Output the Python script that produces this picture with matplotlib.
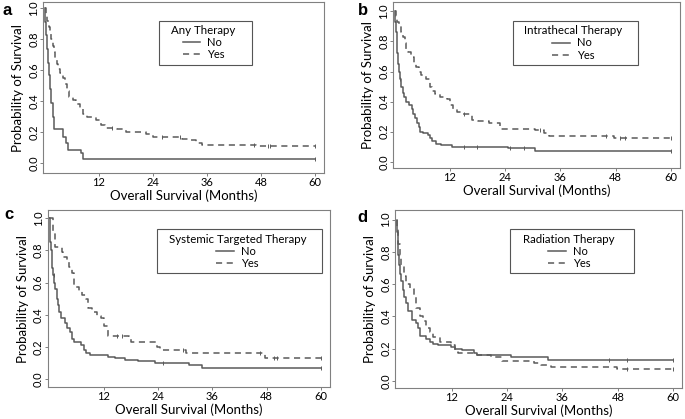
import matplotlib
matplotlib.use("Agg")
import matplotlib.pyplot as plt
from matplotlib.patches import Rectangle
import numpy as np

plt.rcParams['font.family'] = ['Lato', 'DejaVu Sans']

# Kaplan-Meier curves: event times (months) and survival after each drop
a_no_t = [0.15, 0.35, 0.6, 0.85, 1.05, 1.3, 1.55, 1.8, 2.0, 4.2, 4.7, 5.2, 8.1, 8.5]
a_no_s = [0.91, 0.83, 0.74, 0.65, 0.57, 0.48, 0.39, 0.30, 0.22, 0.17, 0.13, 0.087, 0.065, 0.03]
a_no_c = [60]
a_yes_t = [0.3, 0.6, 0.9, 1.2, 1.5, 1.8, 2.1, 2.4, 2.7, 3.0, 3.5, 4.0, 4.5, 5.0, 5.5, 6.3,
           7.0, 7.8, 8.5, 9.4, 11.5, 12.5, 13.5, 16.0, 18.0, 22.5, 24.0, 30.5, 32.0, 33.5, 35.0, 47.0]
a_yes_s = [0.96, 0.92, 0.88, 0.84, 0.80, 0.76, 0.72, 0.68, 0.64, 0.61, 0.58, 0.55, 0.51, 0.47, 0.43, 0.41,
           0.38, 0.35, 0.32, 0.30, 0.28, 0.25, 0.23, 0.22, 0.20, 0.19, 0.17, 0.16, 0.15, 0.13, 0.12, 0.11]
a_yes_c = [15, 26, 30, 46.5, 49.5, 50, 60]

b_no_t = [0.15, 0.3, 0.45, 0.6, 0.8, 1.0, 1.2, 1.5, 1.75, 2.1, 2.5, 3.2, 3.7, 4.1, 4.5, 4.8,
          5.2, 5.6, 6.2, 7.2, 7.6, 8.1, 9.0, 10.0, 12.5, 24.6, 30.5]
b_no_s = [0.93, 0.86, 0.79, 0.72, 0.65, 0.60, 0.55, 0.50, 0.46, 0.43, 0.40, 0.38, 0.35, 0.32, 0.29, 0.26,
          0.23, 0.20, 0.19, 0.18, 0.16, 0.14, 0.12, 0.11, 0.10, 0.09, 0.07]
b_no_c = [1.2, 15, 18, 25, 28, 60]
b_yes_t = [0.3, 0.6, 0.9, 1.3, 1.8, 2.2, 2.5, 3.0, 3.6, 4.2, 4.7, 5.3, 5.8, 6.8, 7.6, 8.2,
           8.7, 9.8, 11.3, 12.0, 12.6, 13.5, 14.5, 16.7, 18.2, 20.4, 22.9, 30.5, 32.4, 33.5, 47.6]
b_yes_s = [0.97, 0.93, 0.90, 0.86, 0.83, 0.79, 0.75, 0.73, 0.70, 0.66, 0.63, 0.60, 0.58, 0.55, 0.50, 0.47,
           0.45, 0.43, 0.42, 0.38, 0.35, 0.33, 0.32, 0.28, 0.27, 0.26, 0.22, 0.21, 0.19, 0.17, 0.155]
b_yes_c = [15, 31.5, 46, 49, 50, 60]

c_no_t = [0.1, 0.2, 0.3, 0.5, 0.7, 0.9, 1.1, 1.3, 1.6, 1.9, 2.2, 2.6, 3.4, 3.9, 4.5, 5.0,
          5.5, 6.9, 7.6, 8.2, 9.0, 12.9, 14.4, 16.6, 19.6, 23.3, 30.8, 33.0, 33.8]
c_no_s = [0.92, 0.85, 0.80, 0.74, 0.69, 0.65, 0.60, 0.56, 0.50, 0.46, 0.42, 0.38, 0.35, 0.32, 0.29, 0.25,
          0.23, 0.21, 0.18, 0.16, 0.15, 0.14, 0.13, 0.12, 0.11, 0.10, 0.09, 0.085, 0.07]
c_no_c = [1.0, 25, 60]
c_yes_t = [0.75, 1.3, 2.8, 3.1, 3.9, 4.3, 5.0, 5.5, 6.5, 7.3, 8.0, 8.5, 9.5, 10.6, 11.4, 12.1,
           13.0, 17.7, 18.1, 23.8, 24.4, 30.1, 47.6]
c_yes_s = [0.91, 0.82, 0.79, 0.76, 0.73, 0.70, 0.66, 0.57, 0.55, 0.52, 0.50, 0.44, 0.42, 0.39, 0.38, 0.33,
           0.27, 0.25, 0.23, 0.20, 0.18, 0.16, 0.13]
c_yes_c = [15, 16, 29.5, 46.5, 49.5, 50.2, 60]

d_no_t = [0.1, 0.2, 0.4, 0.6, 0.8, 1.0, 1.3, 1.7, 2.1, 2.4, 3.4, 4.1, 4.6, 5.1, 6.4, 7.2,
          7.9, 9.0, 11.9, 12.7, 14.1, 16.7, 17.4, 24.8, 32.8]
d_no_s = [0.92, 0.85, 0.78, 0.72, 0.66, 0.62, 0.56, 0.52, 0.48, 0.43, 0.38, 0.36, 0.33, 0.28, 0.26, 0.24,
          0.23, 0.22, 0.21, 0.20, 0.19, 0.17, 0.16, 0.15, 0.13]
d_no_c = [46, 50, 60]
d_yes_t = [0.05, 0.2, 0.4, 0.7, 1.0, 1.5, 2.1, 2.8, 3.7, 4.2, 5.0, 5.7, 6.4, 7.2, 7.9, 9.4,
           11.9, 12.7, 13.4, 17.4, 20.4, 22.9, 29.9, 31.4, 33.6, 47.8]
d_yes_s = [0.95, 0.90, 0.85, 0.78, 0.72, 0.65, 0.60, 0.57, 0.52, 0.45, 0.40, 0.37, 0.33, 0.30, 0.27, 0.24,
           0.22, 0.18, 0.17, 0.16, 0.15, 0.12, 0.11, 0.10, 0.085, 0.075]
d_yes_c = [50, 60]

titles = ["Any Therapy", "Intrathecal Therapy", "Systemic Targeted Therapy", "Radiation Therapy"]
letters = ["a", "b", "c", "d"]
xticks = [12, 24, 36, 48, 60]
yticks = [0.0, 0.2, 0.4, 0.6, 0.8, 1.0]

line_col = "#5a5a5a"


def km(ax, t, s, cens, ls, label):
    tt = np.r_[0, t, 60]
    ss = np.r_[1, s, s[-1]]
    ax.step(tt, ss, where="post", color=line_col, lw=1.1, ls=ls, label=label)
    cy = ss[np.searchsorted(tt, cens, side="right") - 1]
    ax.plot(cens, cy, ls="none", marker="|", ms=3, mew=0.7, color=line_col)


fig = plt.figure(figsize=(6.85, 4.19), dpi=100)

# axes boxes in figure fractions
boxes = [[0.063, 0.587, 0.410, 0.408],
         [0.574, 0.599, 0.419, 0.396],
         [0.070, 0.076, 0.412, 0.423],
         [0.577, 0.074, 0.419, 0.425]]
ylims = [(-0.062, 1.04), (-0.042, 1.062), (-0.05, 1.052), (-0.045, 1.06)]
leg_pos = [(0.445, 0.885), (0.445, 0.88), (0.416, 0.885), (0.435, 0.885)]
leg_extra = [22, 20, 21, 26]   # extra horizontal room inside the box, px
letter_pos = [(0.003, 0.975), (0.522, 0.975), (0.006, 0.487), (0.522, 0.48)]

curves = [
    (a_no_t, a_no_s, a_no_c, a_yes_t, a_yes_s, a_yes_c),
    (b_no_t, b_no_s, b_no_c, b_yes_t, b_yes_s, b_yes_c),
    (c_no_t, c_no_s, c_no_c, c_yes_t, c_yes_s, c_yes_c),
    (d_no_t, d_no_s, d_no_c, d_yes_t, d_yes_s, d_yes_c),
]

legends = []
for i in range(4):
    ax = fig.add_axes(boxes[i])
    nt, ns, nc, yt, ys, yc = curves[i]
    km(ax, nt, ns, nc, "-", "No")
    km(ax, yt, ys, yc, (0, (4, 3)), "Yes")
    ax.set_xlim(-0.3, 62)
    ax.set_ylim(*ylims[i])
    ax.set_xticks(xticks)
    ax.set_yticks(yticks)
    ax.set_yticklabels([f"{v:.1f}" for v in yticks], rotation=90, va="center")
    ax.tick_params(labelsize=8, length=2, width=0.7, color="#808080", pad=0.8)
    for sp in ax.spines.values():
        sp.set_color("#808080")
        sp.set_linewidth(0.8)
    ax.set_xlabel("Overall Survival (Months)", fontsize=9.5, labelpad=1)
    ax.set_ylabel("Probability of Survival", fontsize=9.5, labelpad=3)
    leg = ax.legend(title=titles[i], loc="upper left", bbox_to_anchor=leg_pos[i],
                    borderaxespad=0, fontsize=8, title_fontsize=8.3, frameon=False,
                    handlelength=1.6, handletextpad=0.6, labelspacing=0.1, borderpad=0.3)
    leg._legend_box.align = "center"
    legends.append(leg)
    fig.text(letter_pos[i][0], letter_pos[i][1], letters[i], fontsize=12,
             fontweight="bold", family="Liberation Sans", va="center")

# R-style legend boxes: wider horizontal padding than matplotlib's frame
fig.canvas.draw()
for leg, extra in zip(legends, leg_extra):
    bb = leg.get_window_extent()
    x0, y0 = bb.x0 - extra * 0.4, bb.y0 - 1
    w, h = bb.width + extra, bb.height + 2
    fig.patches.append(Rectangle((x0 / 685, y0 / 419), w / 685, h / 419,
                                 transform=fig.transFigure, fill=False,
                                 edgecolor="#555555", lw=0.8))

fig.savefig("out.png", dpi=100)
